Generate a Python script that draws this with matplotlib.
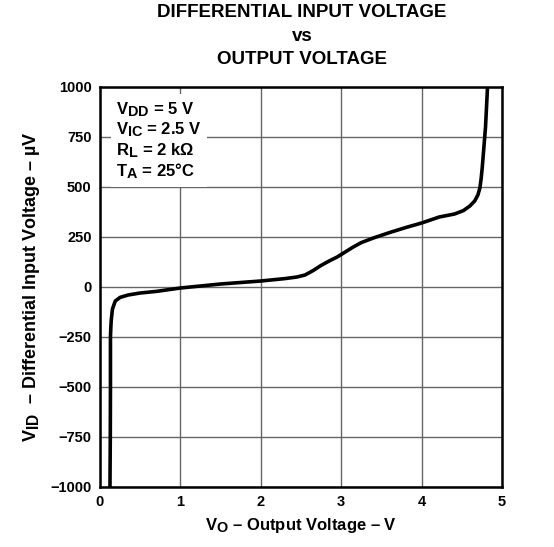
import numpy as np
import matplotlib
matplotlib.use('Agg')
import matplotlib.pyplot as plt
import matplotlib._mathtext as mt

# bigger subscripts, like the data sheet
mt.SHRINK_FACTOR = 0.86

# curve (V_O in V, V_ID in uV)
vo = [0.124, 0.128, 0.13, 0.13, 0.135, 0.14, 0.155, 0.19, 0.25, 0.35, 0.5, 0.7,
      1.0, 1.5, 2.0, 2.3, 2.45, 2.55, 2.65, 2.75, 2.85, 2.95, 3.05, 3.15, 3.25,
      3.4, 3.6, 3.8, 4.0, 4.22, 4.41, 4.52, 4.60, 4.66, 4.70, 4.725, 4.74, 4.755,
      4.775, 4.795, 4.82]
vid = [-1000, -750, -500, -250, -200, -165, -110, -70, -52, -40, -30, -22,
       -5, 15, 30, 42, 50, 60, 82, 108, 130, 150, 175, 200, 222,
       245, 272, 297, 320, 350, 365, 382, 405, 430, 460, 495, 540, 600,
       700, 800, 1000]

xticks = [0, 1, 2, 3, 4, 5]
yticks = [-1000, -750, -500, -250, 0, 250, 500, 750, 1000]

plt.rcParams['font.family'] = ['Liberation Sans', 'DejaVu Sans']
plt.rcParams['font.weight'] = 'bold'
plt.rcParams['mathtext.fontset'] = 'custom'
plt.rcParams['mathtext.rm'] = 'Liberation Sans:bold'
plt.rcParams['mathtext.it'] = 'Liberation Sans:bold'
plt.rcParams['mathtext.bf'] = 'Liberation Sans:bold'

fig = plt.figure(figsize=(5.54, 5.47), dpi=100)
ax = fig.add_axes([100/554, 1-487/547, 402/554, 400/547])

ax.plot(vo, vid, color='black', lw=2.6, solid_joinstyle='round', zorder=3)

ax.set_xlim(0, 5)
ax.set_ylim(-1000, 1000)
ax.set_xticks(xticks)
ax.set_yticks(yticks)
ax.tick_params(length=0, labelsize=10.5, pad=6)
for lab in ax.get_xticklabels() + ax.get_yticklabels():
    lab.set_fontweight('bold')
ax.grid(True, color='#666666', lw=1.0)
for s in ax.spines.values():
    s.set_linewidth(1.8)

ax.set_xlabel(r'$\mathregular{V_O}$ – Output Voltage – V', fontsize=12, fontweight='bold', labelpad=5)
ax.set_ylabel(r'$\mathregular{V_{ID}}$  – Differential Input Voltage – µV', fontsize=13,
              fontweight='bold', labelpad=6)

fig.text(0.545, 0.992, 'DIFFERENTIAL INPUT VOLTAGE\nvs\nOUTPUT VOLTAGE', ha='center', va='top',
         fontsize=13.5, fontweight='bold', linespacing=1.5)

cond = '$\\mathregular{V_{DD}}$ = 5 V\n$\\mathregular{V_{IC}}$ = 2.5 V\n$\\mathregular{R_L}$ = 2 k\u03a9\n$\\mathregular{T_A}$ = 25°C'
ax.text(0.04, 0.968, cond, transform=ax.transAxes, ha='left', va='top', fontsize=12,
        fontweight='bold', linespacing=1.13, zorder=4,
        bbox=dict(facecolor='white', edgecolor='none', pad=4))

fig.savefig('out.png', dpi=100)
